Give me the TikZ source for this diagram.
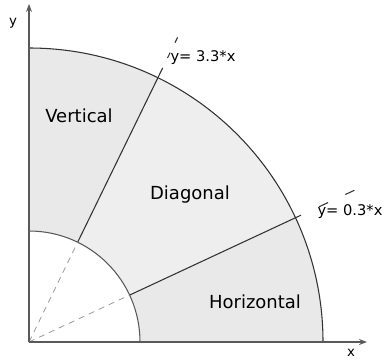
\documentclass[tikz,border=0pt]{standalone}
\usepackage{fontspec}
\setmainfont{DejaVu Sans}
\usetikzlibrary{arrows.meta}
\begin{document}
\begin{tikzpicture}[x=0.75pt, y=0.75pt,
    >={Stealth[length=6pt, width=4.5pt]},
    edge/.style={line width=0.8pt, black!80},
    guide/.style={gray!80, line width=0.6pt, dash pattern=on 4.5pt off 3.75pt},
    axis/.style={->, line width=1pt, black!65},
    zonelabel/.style={anchor=base, font=\fontsize{13.5}{16}\selectfont},
    eqlabel/.style={anchor=base, font=\fontsize{11}{13}\selectfont},
    axislabel/.style={anchor=base, font=\fontsize{10}{12}\selectfont}]
    \useasboundingbox (-29,-20) rectangle (355,342);
    % annular sectors, r = 111 and R = 294, split at 25 and 64 degrees
    \coordinate (O) at (0,0);
    \fill[gray!17] (0:111) -- (0:294) arc[start angle=0, end angle=25, radius=294]
      -- (25:111) arc[start angle=25, end angle=0, radius=111] -- cycle;
    \fill[gray!13] (25:111) -- (25:294) arc[start angle=25, end angle=64, radius=294]
      -- (64:111) arc[start angle=64, end angle=25, radius=111] -- cycle;
    \fill[gray!17] (64:111) -- (64:294) arc[start angle=64, end angle=90, radius=294]
      -- (90:111) arc[start angle=90, end angle=64, radius=111] -- cycle;
    \draw[edge] (90:294) arc[start angle=90, end angle=0, radius=294];
    \draw[edge, black!65] (90:111) arc[start angle=90, end angle=0, radius=111];
    % boundary lines and their extensions
    \coordinate (lowin) at (25:111);
    \coordinate (upin) at (64:111);
    \draw[edge] (lowin) -- (25:300);
    \draw[edge] (upin) -- (64:305);
    \draw[edge, dash pattern=on 4.5pt off 8.25pt] (64:316) -- (64:339);
    \draw[edge, dash pattern=on 7.5pt off 14.25pt] (25:320) -- (25:362);
    \draw[guide] (O) -- (lowin);
    \draw[guide] (O) -- (upin);
    % axes
    \coordinate (xend) at (338,0);
    \coordinate (yend) at (0,338);
    \draw[axis] (O) -- (xend);
    \draw[axis] (O) -- (yend);
    \node[axislabel] (xlab) at (322,-14) {x};
    \node[axislabel] (ylab) at (-16,317) {y};
    \node[zonelabel] (vert) at (50,220) {Vertical};
    \node[zonelabel] (diag) at (161,143) {Diagonal};
    \node[zonelabel] (horiz) at (226,34) {Horizontal};
    \node[eqlabel] (upeq) at (174,281) {y= 3.3*x};
    \node[eqlabel] (loweq) at (321,127) {y= 0.3*x};
  \end{tikzpicture}
\end{document}
